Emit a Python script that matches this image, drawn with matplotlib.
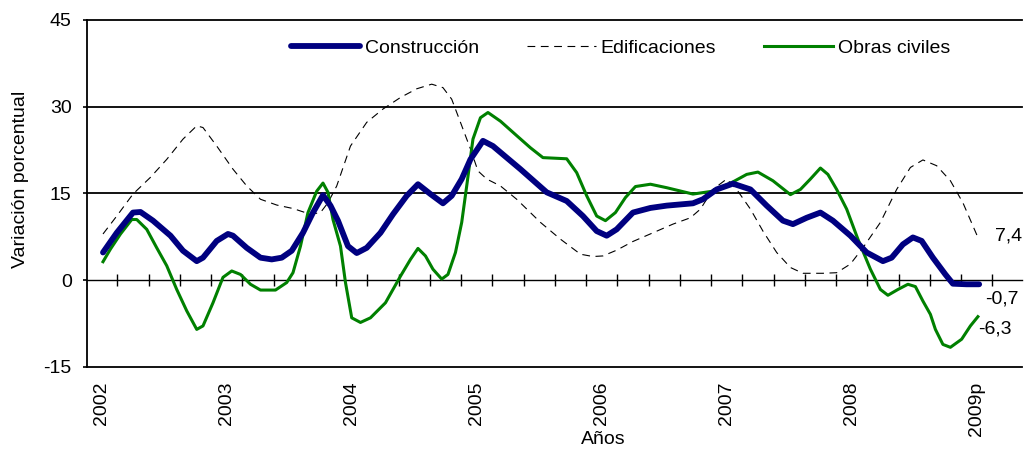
import matplotlib
matplotlib.use('Agg')
import matplotlib.pyplot as plt
from matplotlib.ticker import FixedLocator

plt.rcParams['font.family'] = ['Liberation Sans', 'DejaVu Sans']
plt.rcParams['font.size'] = 14
plt.rcParams['axes.unicode_minus'] = False

# year positions and labels
years = [2002, 2003, 2004, 2005, 2006, 2007, 2008, 2009]
year_labels = ['2002', '2003', '2004', '2005', '2006', '2007', '2008', '2009p']

# Construccion
con_x = [2002.01, 2002.12, 2002.25, 2002.31, 2002.41, 2002.55, 2002.65, 2002.76, 2002.81,
         2002.92, 2003.01, 2003.05, 2003.16, 2003.27, 2003.36, 2003.44, 2003.52, 2003.61,
         2003.69, 2003.77, 2003.83, 2003.89, 2003.97, 2004.04, 2004.12, 2004.23, 2004.33,
         2004.44, 2004.53, 2004.63, 2004.73, 2004.80, 2004.88, 2004.95, 2005.05, 2005.13,
         2005.24, 2005.35, 2005.56, 2005.72, 2005.85, 2005.96, 2006.04, 2006.12, 2006.25,
         2006.39, 2006.52, 2006.73, 2006.81, 2006.92, 2007.05, 2007.19, 2007.32, 2007.45,
         2007.53, 2007.64, 2007.75, 2007.85, 2007.99, 2008.12, 2008.25, 2008.32, 2008.41,
         2008.49, 2008.56, 2008.65, 2008.75, 2008.81, 2008.92, 2009.02]
con_y = [4.8, 8.2, 11.7, 11.8, 10.3, 7.7, 5.1, 3.3, 3.9,
         6.8, 8.0, 7.7, 5.6, 3.9, 3.6, 3.9, 5.1, 8.2,
         11.7, 14.7, 12.9, 10.3, 5.9, 4.7, 5.6, 8.2, 11.4,
         14.6, 16.6, 14.9, 13.3, 14.6, 17.5, 20.9, 24.1, 23.2,
         21.2, 19.2, 15.2, 13.7, 11.1, 8.5, 7.7, 8.8, 11.7,
         12.5, 12.9, 13.3, 14.0, 15.7, 16.7, 15.7, 12.9, 10.3,
         9.7, 10.8, 11.7, 10.3, 7.7, 4.8, 3.3, 3.9, 6.2,
         7.4, 6.8, 3.9, 1.0, -0.6, -0.7, -0.7]

# Edificaciones
edi_x = [2002.01, 2002.12, 2002.25, 2002.39, 2002.52, 2002.65, 2002.76, 2002.81, 2002.92,
         2003.05, 2003.16, 2003.27, 2003.40, 2003.53, 2003.67, 2003.75, 2003.81, 2003.88,
         2003.99, 2004.12, 2004.25, 2004.39, 2004.52, 2004.64, 2004.73, 2004.80, 2004.87,
         2004.95, 2005.01, 2005.08, 2005.19, 2005.32, 2005.51, 2005.67, 2005.83, 2005.93,
         2006.01, 2006.12, 2006.25, 2006.41, 2006.57, 2006.71, 2006.79, 2006.89, 2007.00,
         2007.08, 2007.19, 2007.29, 2007.40, 2007.51, 2007.61, 2007.77, 2007.88, 2007.99,
         2008.09, 2008.23, 2008.36, 2008.47, 2008.57, 2008.68, 2008.79, 2008.89, 2009.01]
edi_y = [8.0, 11.1, 14.9, 17.8, 20.9, 24.4, 26.7, 26.4, 23.2,
         19.2, 16.3, 14.0, 13.0, 12.4, 11.4, 11.7, 13.4, 16.3,
         23.2, 27.3, 29.6, 31.6, 33.1, 33.9, 33.3, 31.3, 27.3,
         22.7, 18.9, 17.5, 16.3, 14.0, 10.0, 7.1, 4.5, 4.1,
         4.2, 5.2, 6.7, 8.2, 9.7, 10.8, 12.3, 15.7, 17.5,
         15.7, 12.3, 8.5, 4.8, 2.2, 1.2, 1.2, 1.3, 2.8,
         5.6, 10.0, 15.7, 19.5, 20.8, 19.8, 17.2, 13.4, 7.4]

# Obras civiles
obr_x = [2002.01, 2002.07, 2002.15, 2002.24, 2002.28, 2002.36, 2002.44, 2002.52, 2002.60,
         2002.68, 2002.76, 2002.81, 2002.89, 2002.97, 2003.04, 2003.11, 2003.19, 2003.27,
         2003.39, 2003.48, 2003.53, 2003.59, 2003.65, 2003.72, 2003.77, 2003.81, 2003.85,
         2003.91, 2003.95, 2004.00, 2004.07, 2004.15, 2004.27, 2004.39, 2004.47, 2004.53,
         2004.59, 2004.65, 2004.72, 2004.77, 2004.83, 2004.88, 2004.92, 2004.97, 2005.03,
         2005.09, 2005.19, 2005.32, 2005.43, 2005.53, 2005.72, 2005.80, 2005.88, 2005.96,
         2006.03, 2006.11, 2006.19, 2006.27, 2006.39, 2006.52, 2006.73, 2006.89, 2007.05,
         2007.16, 2007.25, 2007.37, 2007.51, 2007.59, 2007.67, 2007.75, 2007.81, 2007.88,
         2007.96, 2008.05, 2008.15, 2008.23, 2008.29, 2008.37, 2008.45, 2008.51, 2008.57,
         2008.63, 2008.67, 2008.73, 2008.79, 2008.88, 2008.95, 2009.01]
obr_y = [3.2, 5.4, 8.0, 10.5, 10.5, 8.8, 5.6, 2.5, -1.6,
         -5.3, -8.5, -7.9, -3.9, 0.5, 1.6, 1.0, -0.7, -1.7,
         -1.7, -0.4, 1.3, 5.9, 11.7, 15.4, 16.8, 15.2, 10.5,
         5.9, -0.4, -6.5, -7.3, -6.5, -3.9, 0.7, 3.6, 5.5,
         4.2, 1.9, 0.2, 1.0, 4.8, 10.0, 16.3, 24.4, 28.1,
         29.0, 27.5, 25.0, 22.9, 21.2, 21.0, 18.6, 14.6, 11.1,
         10.3, 11.7, 14.3, 16.2, 16.6, 16.0, 14.9, 15.4, 17.0,
         18.3, 18.7, 17.2, 14.8, 15.7, 17.5, 19.4, 18.3, 15.7,
         12.3, 7.1, 1.9, -1.6, -2.6, -1.6, -0.7, -1.1, -3.6,
         -5.9, -8.5, -11.1, -11.6, -10.2, -7.9, -6.3]

# last values written at the right end
end_labels = ['7,4', '-0,7', '-6,3']

fig = plt.figure(figsize=(10.26, 4.51), dpi=100)
ax = fig.add_axes([0.0848, 0.1863, 0.9112, 0.7694])

ax.plot(con_x, con_y, color='#000080', lw=4.2, solid_capstyle='round',
        solid_joinstyle='round', label='Construcción', zorder=4)
ax.plot(edi_x, edi_y, color='black', lw=0.8, dashes=(7, 5), label='Edificaciones', zorder=3)
ax.plot(obr_x, obr_y, color='#008000', lw=2.2, solid_joinstyle='round',
        label='Obras civiles', zorder=3)

ax.set_xlim(2001.882, 2009.362)
ax.set_ylim(-15, 45)

# horizontal reference lines
for yv in [-15, 15, 30, 45]:
    ax.axhline(yv, color='black', lw=1.3, clip_on=False, zorder=1)

ax.spines['top'].set_visible(False)
ax.spines['right'].set_visible(False)
ax.spines['left'].set_linewidth(1.3)
ax.spines['bottom'].set_position(('data', 0))
ax.spines['bottom'].set_linewidth(1.0)

ax.set_yticks([-15, 0, 15, 30, 45])
ax.tick_params(axis='y', direction='out', length=3, width=1.2, pad=8)

ax.xaxis.set_major_locator(FixedLocator(years))
ax.set_xticklabels(year_labels, rotation=90, va='top', ha='center')
ax.xaxis.set_minor_locator(FixedLocator([2002.125 + 0.25 * k for k in range(29)]))
ax.tick_params(axis='x', which='major', length=0, pad=73)
ax.tick_params(axis='x', which='minor', direction='inout', length=9, width=1)

ax.set_xlabel('Años')
ax.xaxis.set_label_coords(0.552, -0.185)
ax.set_ylabel('Variación porcentual')
ax.yaxis.set_label_coords(-0.062, 0.54)

ax.text(2009.146, 7.6, end_labels[0], va='center', ha='left')
ax.text(2009.07, -3.3, end_labels[1], va='center', ha='left')
ax.text(2009.01, -8.5, end_labels[2], va='center', ha='left')

fig.legend(loc='center', bbox_to_anchor=(0.605, 0.894), ncol=3, frameon=False,
           handlelength=3.55, handletextpad=0.25, columnspacing=2.45)

fig.savefig('out.png', dpi=100)
plt.close(fig)
